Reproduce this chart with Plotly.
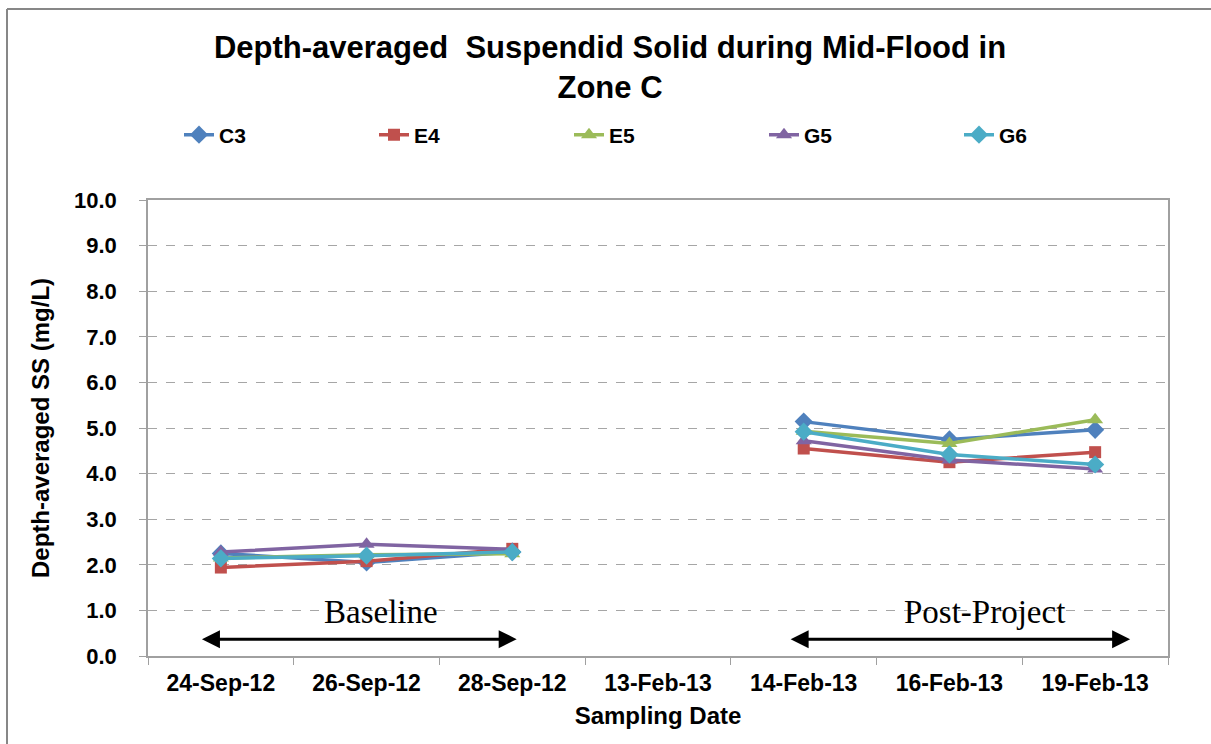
import plotly.graph_objects as go

# Sampling dates (categories); 13-Feb-13 has no data
dates = ["24-Sep-12", "26-Sep-12", "28-Sep-12", "13-Feb-13",
         "14-Feb-13", "16-Feb-13", "19-Feb-13"]

c3 = [2.25, 2.05, 2.28, None, 5.14, 4.75, 4.96]
e4 = [1.94, 2.08, 2.35, None, 4.55, 4.25, 4.47]
e5 = [2.15, 2.22, 2.24, None, 4.93, 4.66, 5.18]
g5 = [2.28, 2.45, 2.34, None, 4.72, 4.30, 4.10]
g6 = [2.14, 2.20, 2.28, None, 4.92, 4.42, 4.20]

series = [
    ("C3", c3, "#4F81BD", "diamond", 14),
    ("E4", e4, "#C0504D", "square", 12),
    ("E5", e5, "#9BBB59", "triangle-up", 14),
    ("G5", g5, "#8064A2", "triangle-up", 14),
    ("G6", g6, "#4BACC6", "diamond", 14),
]

fig = go.Figure()
for name, vals, color, sym, size in series:
    fig.add_trace(go.Scatter(
        x=dates, y=vals, name=name,
        mode="lines+markers",
        line=dict(color=color, width=3.5),
        marker=dict(symbol=sym, size=size, color=color),
        connectgaps=False,
    ))

# period arrows and labels
arrow = dict(text="", showarrow=True, axref="x", ayref="y",
             arrowhead=2, arrowsize=1.2, arrowwidth=3, arrowcolor="black",
             arrowside="end+start")
fig.add_annotation(x=2.03, y=0.37, ax=-0.14, ay=0.37, **arrow)
fig.add_annotation(x=6.24, y=0.37, ax=3.9, ay=0.37, **arrow)

label_font = dict(family="Liberation Serif", size=33, color="black")
fig.add_annotation(x=1.1, y=0.97, text="Baseline", showarrow=False, font=label_font)
fig.add_annotation(x=5.24, y=0.97, text="Post-Project", showarrow=False, font=label_font)

# outer chart frame (left and top edges visible)
fx = (7 - 148) / 1020
fy = (656 - 9) / 456
fig.add_shape(type="line", xref="paper", yref="paper",
              x0=fx, x1=fx, y0=-0.3, y1=fy,
              line=dict(color="#878787", width=2))
fig.add_shape(type="line", xref="paper", yref="paper",
              x0=fx, x1=1.1, y0=fy, y1=fy,
              line=dict(color="#878787", width=2))

bold = dict(family="Arial", color="black", weight="bold")
fig.update_layout(
    width=1211, height=744,
    margin=dict(l=148, r=43, t=200, b=88),
    plot_bgcolor="white", paper_bgcolor="white",
    font=dict(family="Arial", color="black"),
    title=dict(
        text="Depth-averaged  Suspendid Solid during Mid-Flood in<br>Zone C",
        x=610 / 1211, xanchor="center", y=1 - 58 / 744, yanchor="middle",
        font=dict(size=31, **bold),
    ),
    showlegend=True,
    legend=dict(
        orientation="h", x=(179 - 148) / 1020, xanchor="left",
        y=(656 - 135) / 456, yanchor="middle",
        entrywidth=150, entrywidthmode="pixels",
        font=dict(size=21, **bold),
        bgcolor="rgba(0,0,0,0)",
    ),
    xaxis=dict(
        title=dict(text="Sampling Date", font=dict(size=24, **bold), standoff=12),
        tickfont=dict(size=23, **bold),
        tickson="boundaries", ticks="outside", ticklen=7, tickcolor="#A0A0A0",
        ticklabelstandoff=6,
        showline=True, linecolor="#A0A0A0", linewidth=1.5, mirror=True,
        showgrid=False, range=[-0.5, 6.5],
    ),
    yaxis=dict(
        title=dict(text="Depth-averaged SS (mg/L)", font=dict(size=24, **bold), standoff=18),
        tickfont=dict(size=22, **bold),
        range=[0, 10], dtick=1, tickformat=".1f",
        ticks="outside", ticklen=7, tickcolor="#A0A0A0",
        ticklabelstandoff=18,
        showline=True, linecolor="#A0A0A0", linewidth=1.5, mirror=True,
        showgrid=True, gridcolor="#A6A6A6", griddash="dash", gridwidth=1,
        zeroline=False,
    ),
)

fig.write_html("out.html", config={"displayModeBar": False},
               post_script="document.body.style.margin='0';")
